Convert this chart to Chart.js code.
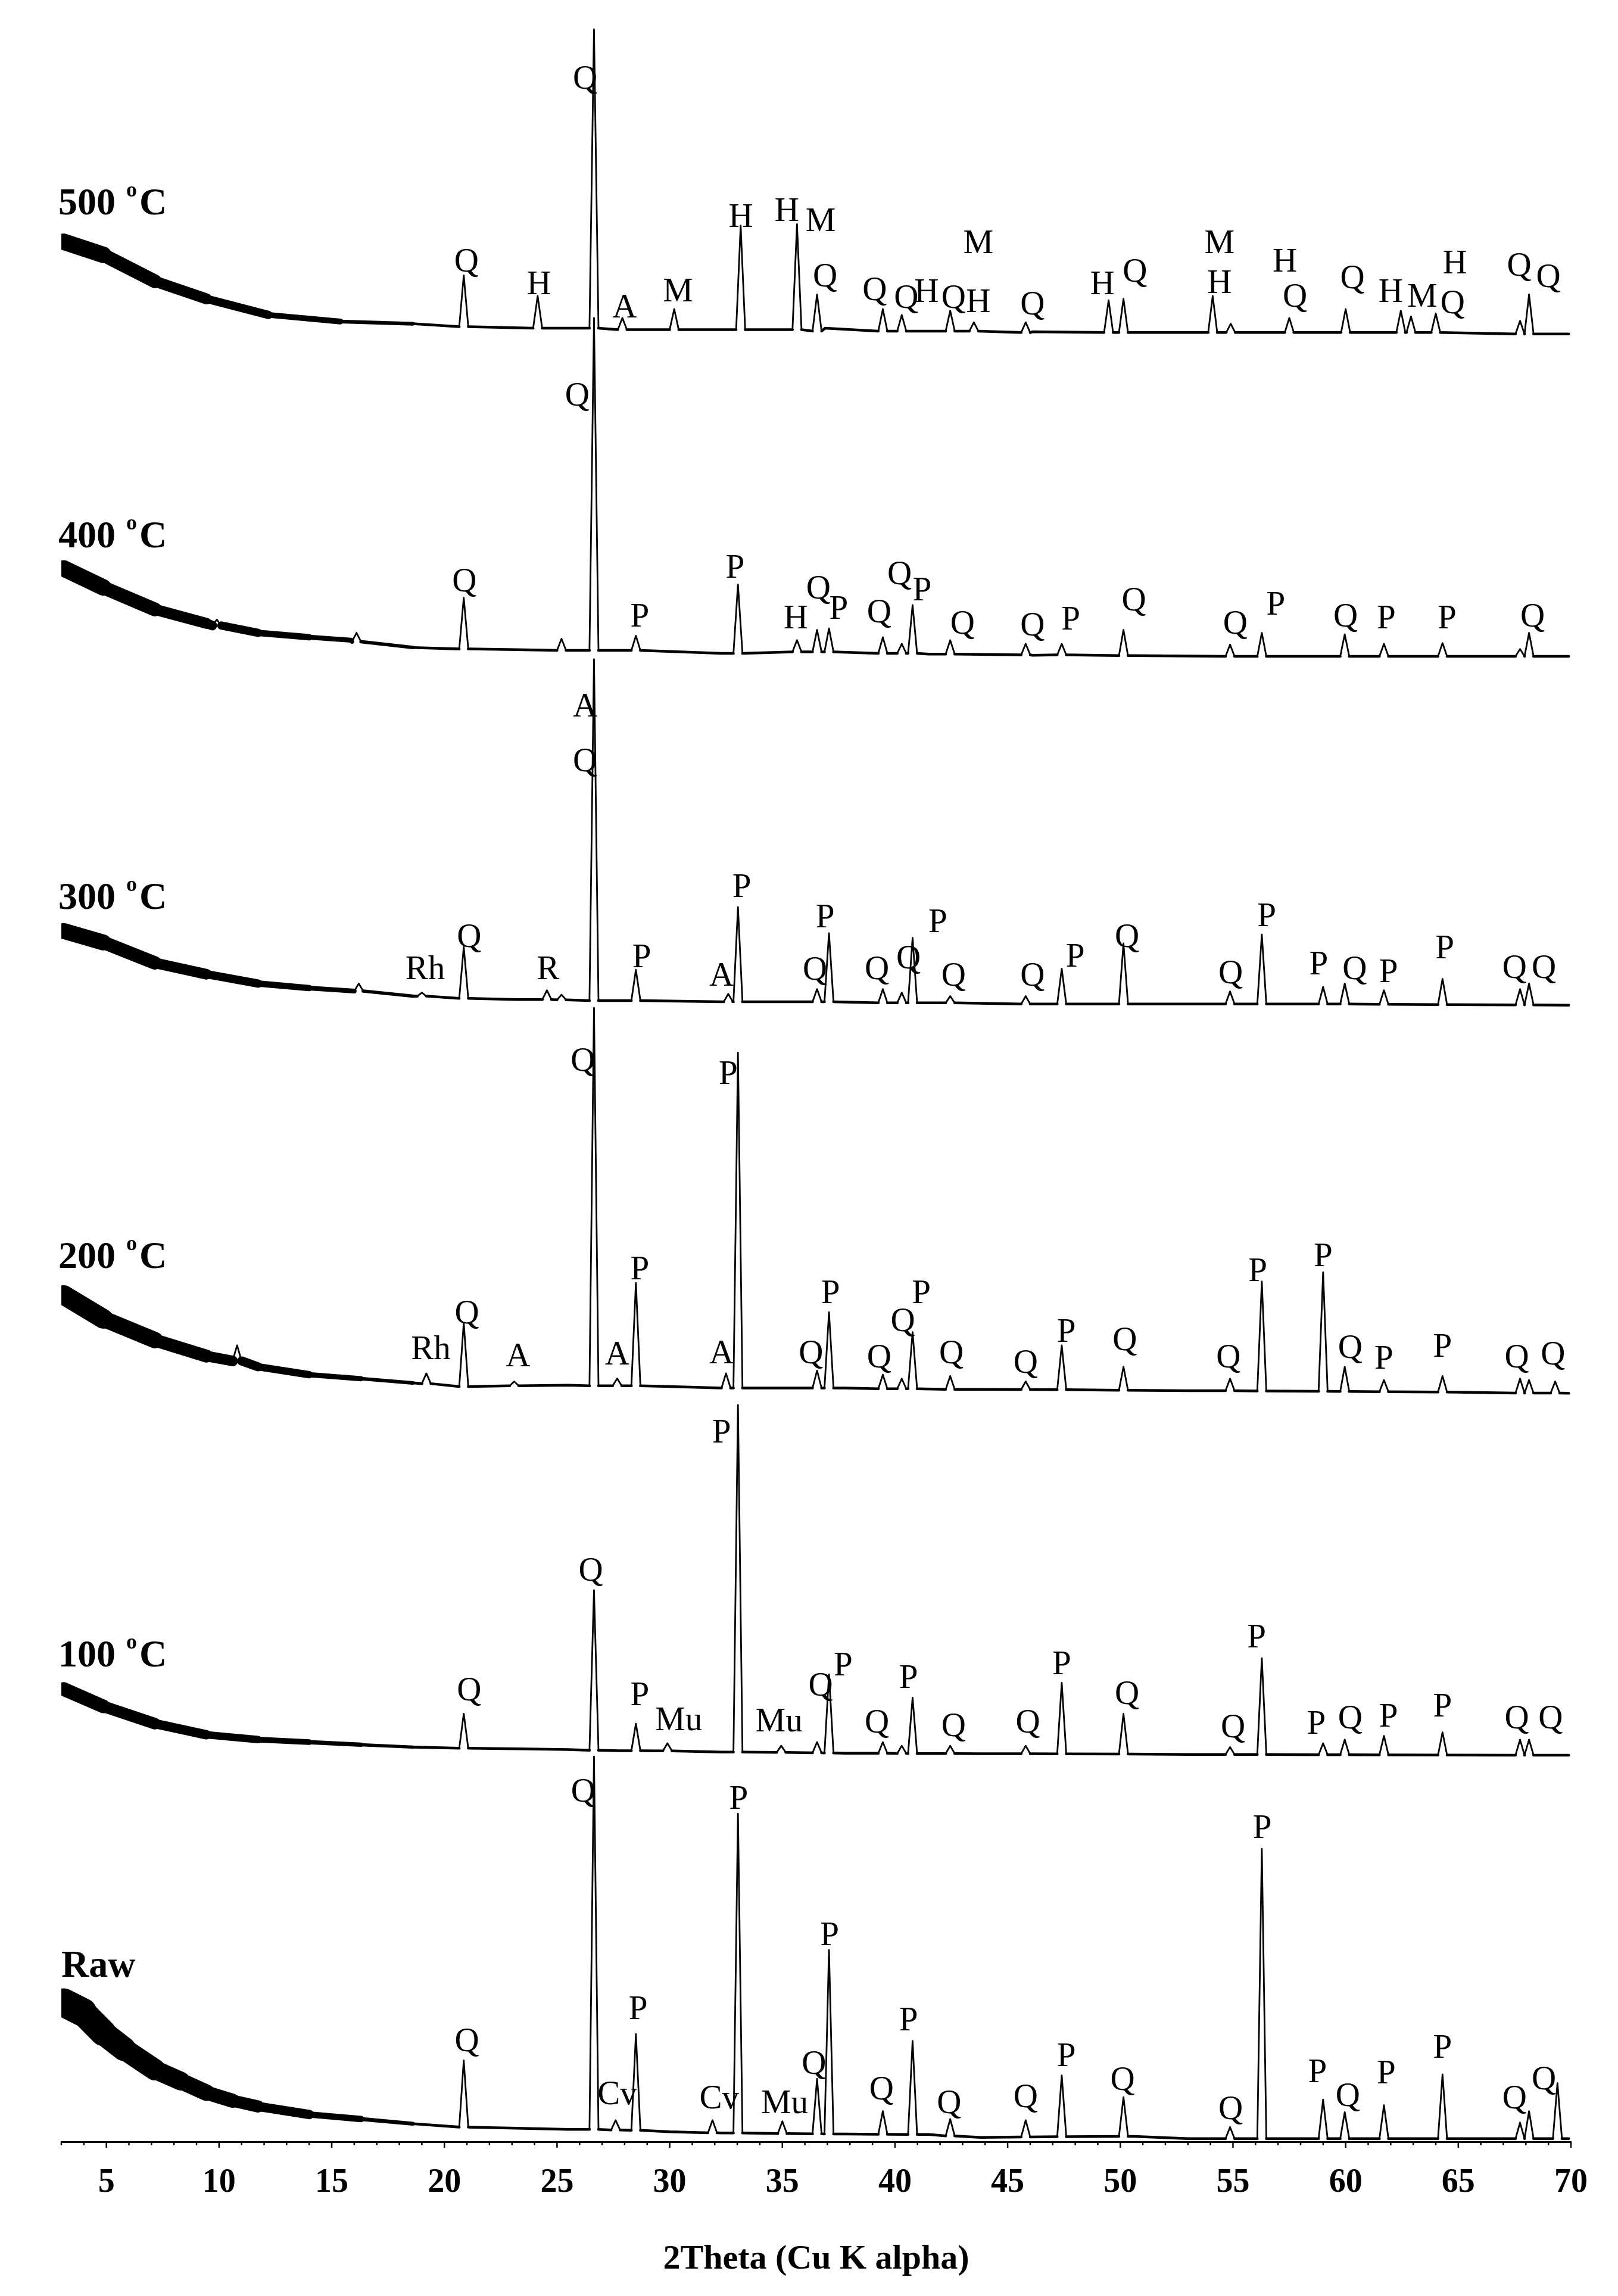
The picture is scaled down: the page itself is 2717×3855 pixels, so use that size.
<!DOCTYPE html>
<html>
<head>
<meta charset="utf-8">
<title>XRD patterns</title>
<script src="https://cdn.jsdelivr.net/npm/chart.js@4.4.1/dist/chart.umd.min.js"></script>
<style>
  html, body { margin: 0; padding: 0; background: #fff; }
  canvas { display: block; }
</style>
</head>
<body>
<canvas id="xrd" width="2717" height="3855" style="width:2717px;height:3855px"></canvas>
<script>
// --- Data (intensity in arbitrary units, patterns already stacked) ---
// background points [2theta, I]
const bg500 = [[3.1,1297],[4.86,1288],[7.15,1270],[9.44,1258],[12.19,1247],[15.39,1242.5],[18.6,1241],[20.9,1239],[27.76,1238],[36.9,1238],[46.1,1235.5],[55.2,1235],[69.9,1234]];
const bg400 = [[3.1,1074],[4.86,1061],[7.15,1046],[9.44,1036.5],[11.73,1030],[14.0,1027],[15.85,1025],[18.6,1020],[20.9,1019],[23.2,1018.5],[27.76,1018],[32.3,1016],[36.9,1017],[41.5,1015.5],[46.1,1014.7],[50.6,1014.5],[55.2,1014],[59.8,1014],[64.4,1014],[69.9,1014]];
const bg300 = [[3.1,826.5],[4.86,818.7],[7.15,804.7],[9.44,797],[11.73,790.6],[14.0,787.5],[16.3,785.2],[18.6,782],[20.9,780.5],[23.2,779.7],[27.76,779],[32.3,778.2],[36.9,778.2],[41.5,777.4],[46.1,776.6],[53,776.6],[59.8,776.6],[69.9,775.8]];
const bg200 = [[3.1,578],[4.86,561.8],[7.15,547.2],[9.44,536.3],[11.73,529],[14.0,523.6],[16.3,520.9],[18.6,518],[20.9,515.5],[23.2,516.4],[25.5,516.4],[27.76,516.4],[30.0,515.5],[32.3,514.5],[35.1,514.5],[37.8,514.5],[43.8,513.6],[53,512.7],[64.4,511.8],[69.9,510.9]];
const bg100 = [[3.1,309],[4.86,297.2],[7.15,285.4],[9.44,277.8],[11.73,274.5],[14.0,272.8],[16.3,271],[18.6,269.4],[20.9,268.6],[23.2,268.2],[25.5,267.7],[27.76,266.9],[30.0,267.5],[32.3,266],[37.8,265.2],[43.8,264.9],[53,264.4],[64.4,264],[69.9,263.9]];
const bgRaw = [[3.1,95],[3.95,88.4],[4.86,74.3],[5.78,63.3],[7.15,49.2],[8.3,41.4],[9.44,33.5],[10.6,28],[11.73,24.1],[14.0,18.6],[16.3,15.5],[18.6,12.3],[20.9,10],[23.2,9.2],[25.5,8.4],[30.0,6.8],[32.3,6.0],[37.8,5.3],[41.5,5.0],[43.8,2.9],[50.6,3.7],[53,2.1],[57.5,2.1],[64.4,2.1],[69.9,2.1]];

// peaks [2theta, base, top]
const pk500 = [[20.86,1239,1274],[24.14,1238,1260],[26.64,1238,1442],[27.9,1237,1245],[30.2,1237,1251],[33.15,1237,1308],[35.65,1237,1309],[36.54,1236,1261],[39.46,1236,1251],[40.3,1236,1247],[42.45,1236,1250],[43.5,1236,1242],[45.8,1235,1242],[49.48,1235,1257],[50.14,1235,1258],[54.1,1235,1260],[54.9,1235,1241],[57.5,1235,1245],[60.0,1235,1251],[62.45,1235,1250],[62.9,1235,1246],[64.0,1235,1248],[67.74,1234,1243],[68.14,1234,1261]];
const pk400 = [[9.9,1035,1039],[16.1,1024,1030],[20.86,1019,1054],[25.2,1018,1026],[26.64,1018,1245],[28.5,1018,1028],[33.03,1016,1063],[35.65,1017,1025],[36.54,1017,1032],[37.07,1017,1033],[39.46,1016,1027],[40.3,1016,1022.5],[40.78,1016,1049],[42.45,1015.5,1025],[45.8,1015,1022.5],[47.4,1015,1022.5],[50.14,1014.5,1032],[54.87,1014,1022],[56.28,1014,1030],[59.96,1014,1029],[61.7,1014,1022.5],[64.3,1014,1023],[67.74,1014,1019],[68.14,1014,1030]];
const pk300 = [[16.2,785.5,790.6],[19.0,782,784.4],[20.86,780.5,815.6],[24.55,779.7,786],[25.2,779.5,783],[26.64,779,1012],[28.5,779,800],[32.6,778.2,783.6],[33.03,778.2,842.8],[36.54,778.2,786.8],[37.07,778.2,825],[39.46,777.5,786.8],[40.3,777.4,784.4],[40.78,777.4,821.8],[42.45,777.4,782],[45.8,776.6,782],[47.4,776.6,800.8],[50.14,776.6,818],[54.87,776.6,785.2],[56.28,776.6,824.1],[59.0,776.6,788.3],[59.96,776.6,790.6],[61.7,776.4,786],[64.3,776.2,793.8],[67.74,776,786.8],[68.14,776,790.6]];
const pk200 = [[10.8,533,543.6],[19.2,517.5,524.5],[20.86,515.5,559],[23.1,516,519],[26.64,516,774],[27.67,516,521],[28.5,516,586.3],[32.5,514.5,524.5],[33.03,514.5,743.4],[36.54,514.5,526.4],[37.07,514.5,566.3],[39.46,514,523.6],[40.3,514,520.9],[40.78,514,552.7],[42.45,513.6,522.7],[45.8,513.5,519],[47.4,513.4,543.6],[50.14,513,529],[54.87,512.7,520.9],[56.28,512.5,587.2],[59.0,512.3,593.5],[59.96,512.2,529],[61.7,512,520],[64.3,511.8,522.7],[67.74,511,520.9],[68.14,511,520],[69.3,511,519]];
const pk100 = [[20.86,268.6,292.2],[26.64,267.2,376.5],[28.5,266.9,285.4],[29.9,266.8,272],[33.03,266,503],[34.95,265.8,270.3],[36.54,265.5,272.8],[37.07,265.4,319],[39.46,265.2,272.8],[40.3,265.1,270.3],[40.78,265,303.1],[42.45,265,270.3],[45.8,264.9,270.3],[47.4,264.8,313.3],[50.14,264.7,292.2],[54.87,264.4,269.4],[56.28,264.4,330.1],[59.0,264.2,272],[59.96,264.2,274.5],[61.7,264.1,277],[64.3,264,279.5],[67.74,263.9,274.5],[68.14,263.9,274.5]];
const pkRaw = [[20.86,10,55.5],[26.64,8.4,263],[27.6,8,14.7],[28.5,7.8,73.5],[31.9,6.1,14.7],[33.03,6,224],[35.0,5.6,13.9],[36.54,5.4,42.9],[37.07,5.3,131],[39.46,5.1,20.9],[40.78,5,68.8],[42.45,4,15.5],[45.8,3.3,14.7],[47.4,3.5,45.3],[50.14,3.7,30.4],[54.87,2.1,10],[56.28,2.1,200],[59.0,2.1,28.8],[59.96,2.1,20.2],[61.7,2.1,24.9],[64.3,2.1,46],[67.74,2.1,13.1],[68.14,2.1,20.9],[69.4,2.1,40]];

// phase labels [text, 2theta, I]
const lab500 = [['Q',20.98,1284.5],['H',24.2,1269],['Q',26.25,1409],['A',28.0,1253],['M',30.37,1264],['H',33.16,1315],['H',35.2,1319],['M',36.7,1312],['Q',36.9,1274],['Q',39.1,1265],['Q',40.5,1259.6],['H',41.4,1263.5],['Q',42.6,1259.6],['H',43.7,1256.5],['M',43.7,1297],['Q',46.1,1255],['H',49.2,1269],['Q',50.65,1277.5],['M',54.4,1297],['H',54.4,1269.7],['H',57.3,1284.5],['Q',57.75,1260.4],['Q',60.3,1273],['H',62.0,1263.5],['M',63.4,1260.4],['H',64.85,1283],['Q',64.75,1255.7],['Q',67.7,1281.4],['Q',69.0,1273.6]];
const lab400 = [['Q',20.89,1066],['Q',25.9,1193],['P',28.67,1042],['P',32.9,1075.4],['H',35.6,1041],['Q',36.6,1061],['P',37.5,1047.4],['Q',39.3,1045],['Q',40.2,1071],['P',41.2,1060],['Q',43.0,1037],['Q',46.1,1036],['P',47.8,1040],['Q',50.6,1053],['Q',55.1,1037],['P',56.9,1050],['Q',60.0,1042],['P',61.8,1041],['P',64.5,1041],['Q',68.3,1042]];
const lab300 = [['Rh',19.15,801.5],['Q',21.1,823.3],['R',24.6,801.5],['A',26.25,980.6],['Q',26.25,943.2],['P',28.76,809.3],['A',32.3,797],['P',33.2,857.6],['Q',36.45,800.8],['P',36.9,836.6],['Q',39.2,801.5],['Q',40.6,808.6],['P',41.9,833.5],['Q',42.6,797],['Q',46.1,797],['P',48.0,810],['Q',50.3,823.3],['Q',54.9,798.4],['P',56.5,837.4],['P',58.8,804.7],['Q',60.4,801.5],['P',61.9,799.2],['P',64.4,815.6],['Q',67.5,802.3],['Q',68.8,802.3]];
const lab200 = [['Rh',19.4,541.8],['Q',21.0,566.3],['A',23.27,537.2],['Q',26.15,738.8],['A',27.67,538.1],['P',28.67,596.3],['A',32.3,539],['P',32.6,729.7],['Q',36.27,539],['P',37.14,580],['Q',39.3,536.3],['Q',40.35,560.9],['P',41.17,580],['Q',42.5,539],['Q',45.8,532.7],['P',47.6,553.6],['Q',50.2,548.1],['Q',54.8,536.3],['P',56.1,595.4],['P',59.0,605.4],['Q',60.2,542.7],['P',61.7,535.4],['P',64.3,543.6],['Q',67.6,536.3],['Q',69.2,538.1]];
const lab100 = [['Q',21.1,309],['Q',26.5,390.8],['P',28.67,305.7],['Mu',30.4,288.8],['P',32.3,485.2],['Mu',34.85,288],['Q',36.7,312.4],['P',37.7,325.9],['Q',39.2,287.1],['P',40.6,317.5],['Q',42.6,284.6],['Q',45.9,287.1],['P',47.4,326.7],['Q',50.3,306.5],['Q',55.0,283.7],['P',56.05,345.3],['P',58.7,286.3],['Q',60.2,289.7],['P',61.9,291.3],['P',64.3,298],['Q',67.6,289.7],['Q',69.1,289.7]];
const labRaw = [['Q',26.16,240],['P',33.06,235],['P',37.1,142],['P',56.3,215],['Q',21.0,69.6],['Cv',27.67,33.5],['P',28.6,91.6],['Cv',32.2,30.4],['Mu',35.1,27.2],['Q',36.4,53.9],['Q',39.4,36.6],['P',40.6,83.7],['Q',42.4,27.2],['Q',45.8,31.2],['P',47.6,59.4],['Q',50.1,42.9],['Q',54.9,23.3],['P',58.75,48.4],['Q',60.1,32],['P',61.8,47.6],['P',64.3,64.9],['Q',67.5,30.4],['Q',68.8,43.7]];

// pattern names and the level of their name tag
const names = ['500', '400', '300', '200', '100', 'Raw'];
const nameLevels = [1324, 1097, 850, 605, 333, 121];
const xTicks = [5, 10, 15, 20, 25, 30, 35, 40, 45, 50, 55, 60, 65, 70];

// --- Style ---
const HW = 0.2;                  // half width of a peak (deg)
const noiseStart = [30, 30, 29, 36, 25, 50];  // band thickness of noisy low-angle part (px)
const FONT = '"Liberation Serif", "Times New Roman", serif';

const allBg = [bg500, bg400, bg300, bg200, bg100, bgRaw];
const allPk = [pk500, pk400, pk300, pk200, pk100, pkRaw];
const allLab = [lab500, lab400, lab300, lab200, lab100, labRaw];

function buildTrace(bg, peaks) {
    const pts = [];
    bg.forEach(([x, y]) => {
        if (!peaks.some(p => Math.abs(p[0] - x) <= HW)) pts.push({ x, y, bg: true });
    });
    peaks.forEach(([x, base, top]) => {
        pts.push({ x: x - HW, y: base, bg: true });
        pts.push({ x: x, y: top, bg: false });
        pts.push({ x: x + HW, y: base, bg: true });
    });
    return pts.sort((a, b) => a.x - b.x);
}

function noiseWidth(w0) {
    return ctx => {
        const a = ctx.p0.raw, b = ctx.p1.raw;
        if (!a.bg || !b.bg) return 2.8;
        const xm = (a.x + b.x) / 2;
        if (xm >= 20) return 4.5;
        return 4.5 + (w0 - 4.5) * Math.pow((20 - xm) / 17, 1.6);
    };
}

const datasets = allBg.map((bg, i) => ({
    label: names[i],
    data: buildTrace(bg, allPk[i]),
    borderColor: '#000',
    borderWidth: 2.8,
    borderCapStyle: 'round',
    borderJoinStyle: 'round',
    pointRadius: 0,
    tension: 0,
    fill: false,
    segment: { borderWidth: noiseWidth(noiseStart[i]) }
}));

// --- Plugins ---
const tickMarks = {
    id: 'tickMarks',
    afterDraw(chart) {
        const { ctx, scales: { x }, chartArea } = chart;
        ctx.save();
        ctx.strokeStyle = '#000';
        ctx.lineWidth = 2.5;
        for (let v = 3; v <= 70; v++) {
            const px = x.getPixelForValue(v);
            const len = v % 5 === 0 ? 10 : 6;
            ctx.beginPath();
            ctx.moveTo(px, chartArea.bottom);
            ctx.lineTo(px, chartArea.bottom + len);
            ctx.stroke();
        }
        ctx.restore();
    }
};

const phaseLabels = {
    id: 'phaseLabels',
    afterDraw(chart) {
        const { ctx, scales: { x, y } } = chart;
        ctx.save();
        ctx.fillStyle = '#000';
        ctx.textBaseline = 'alphabetic';

        // phase letters
        ctx.textAlign = 'center';
        ctx.font = '57px ' + FONT;
        allLab.forEach(list => list.forEach(([t, vx, vy]) => {
            ctx.fillText(t, x.getPixelForValue(vx), y.getPixelForValue(vy) + 19);
        }));

        // pattern names, e.g. "500 oC" with raised o
        ctx.textAlign = 'left';
        names.forEach((n, i) => {
            let px = x.getPixelForValue(2.87);
            const base = y.getPixelForValue(nameLevels[i]) + 21;
            ctx.font = 'bold 64px ' + FONT;
            if (n === 'Raw') {
                ctx.fillText(n, x.getPixelForValue(3.0), base);
                return;
            }
            const head = n + ' ';
            ctx.fillText(head, px, base);
            px += ctx.measureText(head).width;
            ctx.font = 'bold 36px ' + FONT;
            ctx.fillText('o', px + 2, base - 30);
            px += ctx.measureText('o').width + 6;
            ctx.font = 'bold 64px ' + FONT;
            ctx.fillText('C', px, base);
        });
        ctx.restore();
    }
};

// --- Chart ---
new Chart(document.getElementById('xrd'), {
    type: 'line',
    data: { datasets },
    options: {
        responsive: false,
        animation: false,
        parsing: false,
        layout: { padding: { left: 103, right: 79, top: 0, bottom: 0 } },
        plugins: {
            legend: { display: false },
            tooltip: { enabled: false }
        },
        scales: {
            x: {
                type: 'linear',
                min: 3,
                max: 70,
                afterBuildTicks: scale => { scale.ticks = xTicks.map(v => ({ value: v })); },
                afterFit: scale => { scale.height = 259; },
                grid: { display: false, drawTicks: false },
                border: { display: true, color: '#000', width: 3 },
                ticks: {
                    color: '#000',
                    autoSkip: false,
                    maxRotation: 0,
                    padding: 36,
                    font: { family: FONT, weight: 'bold', size: 56 }
                },
                title: {
                    display: true,
                    text: '2Theta (Cu K alpha)',
                    color: '#000',
                    font: { family: FONT, weight: 'bold', size: 58 },
                    padding: { top: 0, bottom: 26 }
                }
            },
            y: { display: false, min: 0, max: 1462 }
        }
    },
    plugins: [tickMarks, phaseLabels]
});
</script>
</body>
</html>
